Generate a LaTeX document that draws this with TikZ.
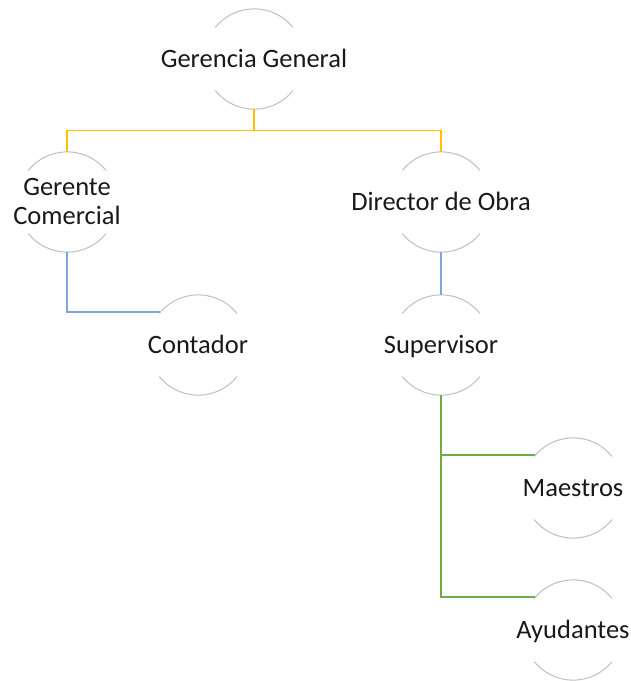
\documentclass[tikz,border=0pt]{standalone}
\usepackage{fontspec}
\setmainfont{Carlito}
\definecolor{cyel}{HTML}{FFC000}
\definecolor{cblu}{HTML}{7FA7DA}
\definecolor{cgrn}{HTML}{70AD47}
\definecolor{carc}{HTML}{BFBFBF}
\begin{document}
\begin{tikzpicture}[x=1pt,y=-1pt,
  circ/.style={circle,minimum size=100pt,inner sep=0pt,draw=none},
  arcs/.style={draw=carc,line width=1pt},
  txt/.style={align=center,anchor=base,font=\fontsize{26.5}{29}\selectfont,text=black!90,inner sep=0pt},
  yel/.style={draw=cyel,line width=1.4pt},
  blu/.style={draw=cblu,line width=1.4pt},
  grn/.style={draw=cgrn,line width=1.4pt}]
\useasboundingbox (0,0) rectangle (631,681);
\node[circ] (gg) at (254,59) {};
\node[circ] (gc) at (67,202) {};
\node[circ] (do) at (441,202) {};
\node[circ] (ct) at (198,345) {};
\node[circ] (sp) at (441,345) {};
\node[circ] (ma) at (573,488) {};
\node[circ] (ay) at (573,630) {};
\foreach \n in {gg,gc,do,ct,sp,ma,ay}{
  \draw[arcs] (\n.39) arc (39:141:50pt);
  \draw[arcs] (\n.-39) arc (-39:-141:50pt);
}
\node[txt] at ([yshift=-8pt]gg) {Gerencia General};
\node[txt] at ([yshift=-22pt]gc) {Gerente\\Comercial};
\node[txt] at ([yshift=-8pt]do) {Director de Obra};
\node[txt] at ([yshift=-8pt]ct) {Contador};
\node[txt] at ([yshift=-8pt]sp) {Supervisor};
\node[txt] at ([yshift=-8pt]ma) {Maestros};
\node[txt] at ([yshift=-8pt]ay) {Ayudantes};
\coordinate (bus) at (254,130.5);
\draw[yel] (gg.south) -- (bus);
\draw[yel] (bus) -| (gc.north);
\draw[yel] (bus) -| (do.north);
\draw[blu] (gc.south) |- (ct.139);
\draw[blu] (do.south) -- (sp.north);
\draw[grn] (sp.south) |- (ma.139);
\draw[grn] (sp.south) |- (ay.139);
\end{tikzpicture}
\end{document}
